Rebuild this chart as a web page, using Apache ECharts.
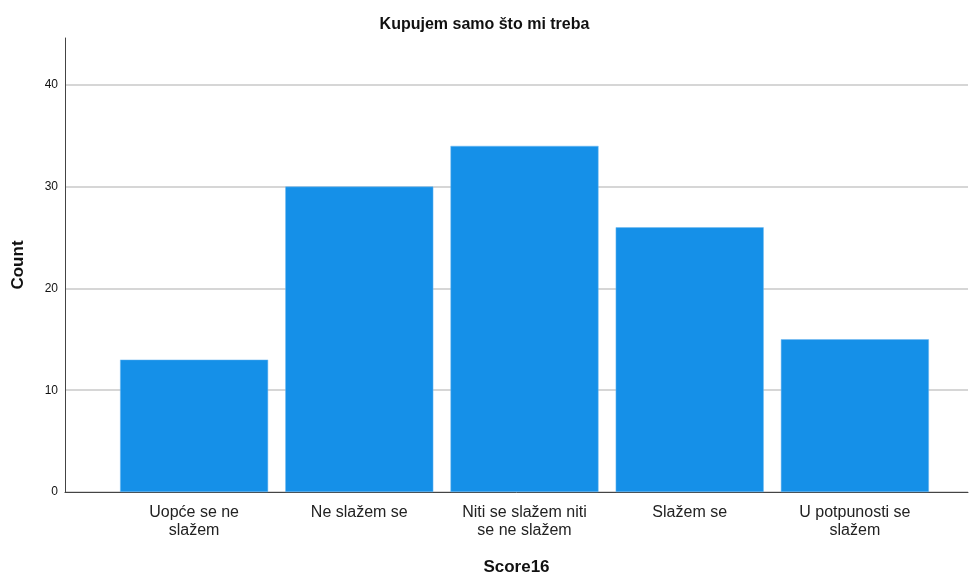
<!DOCTYPE html>
<html>
<head>
<meta charset="utf-8">
<script src="https://cdn.jsdelivr.net/npm/echarts@6/dist/echarts.min.js"></script>
<style>
  html, body { margin: 0; padding: 0; background: #fff; }
  #chart { width: 969px; height: 576px; }
</style>
</head>
<body>
<div id="chart"></div>
<script>
  // podaci
  var categories = ['Uopće se ne\nslažem', 'Ne slažem se', 'Niti se slažem niti\nse ne slažem', 'Slažem se', 'U potpunosti se\nslažem'];
  var counts = [13, 30, 34, 26, 15];
  var yMin = 0;
  var yMax = 44.6;
  var yStep = 10;

  var font = 'Liberation Sans, Arial, sans-serif';
  var myChart = echarts.init(document.getElementById('chart'));

  var option = {
    animation: false,
    title: {
      text: 'Kupujem samo što mi treba',
      left: 'center',
      top: 12,
      textStyle: { fontFamily: font, fontSize: 16, fontWeight: 'bold', color: '#111' }
    },
    grid: [
      // okvir: os y, linije mreže, os x
      { left: 65, right: 1, top: 38, bottom: 84, outerBoundsMode: 'none', containLabel: false },
      // stupci
      { left: 111.5, right: 31.5, top: 38, bottom: 84, outerBoundsMode: 'none', containLabel: false }
    ],
    xAxis: [
      {
        gridIndex: 0,
        type: 'category',
        data: categories,
        axisLine: { show: true, lineStyle: { color: '#444', width: 1 } },
        axisTick: { show: false },
        axisLabel: { show: false },
        name: 'Score16',
        nameLocation: 'middle',
        nameGap: 67,
        nameTextStyle: { fontFamily: font, fontSize: 17, fontWeight: 'bold', color: '#111' }
      },
      {
        gridIndex: 1,
        type: 'category',
        data: categories,
        axisLine: { show: false },
        axisTick: { show: false },
        axisLabel: {
          interval: 0,
          margin: 12,
          fontFamily: font,
          fontSize: 16,
          lineHeight: 18,
          color: '#222'
        }
      }
    ],
    yAxis: [
      {
        gridIndex: 0,
        type: 'value',
        min: yMin,
        max: yMax,
        interval: yStep,
        axisLine: { show: true, lineStyle: { color: '#444', width: 1 } },
        axisTick: { show: false },
        axisLabel: { fontFamily: font, fontSize: 12, color: '#111', margin: 7, showMaxLabel: false },
        splitLine: { show: true, showMaxLine: false, lineStyle: { color: '#c8c8c8', width: 1.5 } },
        name: 'Count',
        nameLocation: 'middle',
        nameGap: 38,
        nameTextStyle: { fontFamily: font, fontSize: 17, fontWeight: 'bold', color: '#111' }
      },
      {
        gridIndex: 1,
        type: 'value',
        min: yMin,
        max: yMax,
        interval: yStep,
        show: false,
        splitLine: { show: false }
      }
    ],
    series: [
      {
        type: 'bar',
        xAxisIndex: 1,
        yAxisIndex: 1,
        data: counts,
        barCategoryGap: '10.4%',
        itemStyle: { color: '#1590e8', borderColor: '#6fb8f0', borderWidth: 0.5 },
        z: 3
      }
    ]
  };

  myChart.setOption(option);
</script>
</body>
</html>
